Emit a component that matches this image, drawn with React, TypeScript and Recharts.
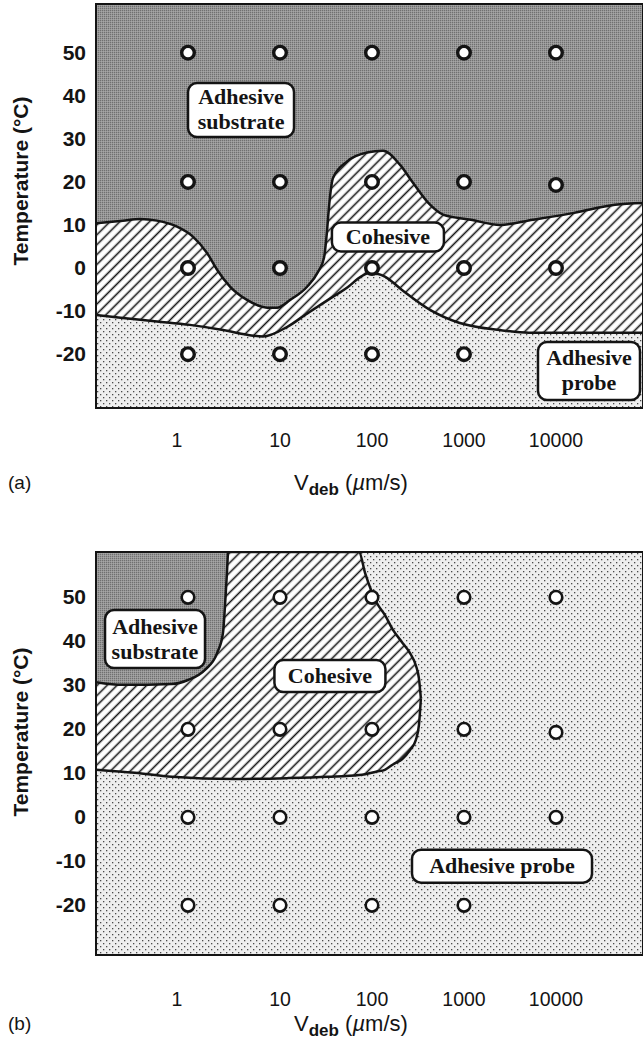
import React from 'react';
import {
  ComposedChart,
  Area,
  Scatter,
  XAxis,
  YAxis,
  ReferenceArea,
  ReferenceDot,
} from 'recharts';

// ---------------- data ----------------
const xTicks = [1, 10, 100, 1000, 10000];
const yTicks = [-20, -10, 0, 10, 20, 30, 40, 50];
const X_DOMAIN: [number, number] = [0.1, 88300];
const Y_DOMAIN_A: [number, number] = [-32.5, 61.3];
const Y_DOMAIN_B: [number, number] = [-31.3, 60.3];

// Panel (a): boundary between "Adhesive substrate" (above) and "Cohesive" (below)
const boundarySubstrateCohesiveA = [
  { v: 0.1, t: 10.4 }, { v: 0.196, t: 11.0 }, { v: 0.301, t: 11.4 }, { v: 0.46, t: 11.0 },
  { v: 0.76, t: 9.6 }, { v: 1.13, t: 7.3 }, { v: 1.61, t: 3.5 }, { v: 2.07, t: -0.4 },
  { v: 2.86, t: -4.3 }, { v: 4.38, t: -7.4 }, { v: 7.23, t: -9.2 }, { v: 9.27, t: -9.2 },
  { v: 12.9, t: -7.4 }, { v: 19.6, t: -4.4 }, { v: 25.9, t: -0.9 }, { v: 30.1, t: 2.4 },
  { v: 32.4, t: 8.4 }, { v: 34.1, t: 14.2 }, { v: 37.7, t: 20.9 }, { v: 53.5, t: 24.7 },
  { v: 88.3, t: 26.8 }, { v: 132, t: 27.2 }, { v: 201, t: 24.0 }, { v: 279, t: 19.8 },
  { v: 427, t: 14.7 }, { v: 592, t: 12.4 }, { v: 1190, t: 11.2 }, { v: 2460, t: 10.0 },
  { v: 5620, t: 11.2 }, { v: 15700, t: 12.8 }, { v: 43800, t: 14.7 }, { v: 88300, t: 15.1 },
];

// Panel (a): boundary between "Cohesive" (above) and "Adhesive probe" (below)
const boundaryCohesiveProbeA = [
  { v: 0.1, t: -10.9 }, { v: 0.196, t: -11.6 }, { v: 0.46, t: -12.4 }, { v: 1.05, t: -13.2 },
  { v: 2.4, t: -14.4 }, { v: 4.38, t: -15.5 }, { v: 6.53, t: -15.9 }, { v: 11.9, t: -13.7 },
  { v: 19.6, t: -10.6 }, { v: 33.3, t: -7.4 }, { v: 54.8, t: -4.4 }, { v: 75.9, t: -2.0 },
  { v: 95.1, t: -1.1 }, { v: 138, t: -2.0 }, { v: 212, t: -5.1 }, { v: 427, t: -9.7 },
  { v: 883, t: -12.7 }, { v: 2460, t: -14.4 }, { v: 5090, t: -15.0 }, { v: 15700, t: -15.0 },
  { v: 88300, t: -15.0 },
];

// Panel (b): lower edge of the "Adhesive substrate" corner
const boundarySubstrateB = [
  { v: 0.1, t: 30.7 }, { v: 0.196, t: 30.1 }, { v: 0.67, t: 30.3 }, { v: 1.0, t: 31.2 },
  { v: 1.53, t: 33.5 }, { v: 2.07, t: 37.3 }, { v: 2.4, t: 41.9 }, { v: 2.52, t: 47.8 },
  { v: 2.65, t: 55.5 }, { v: 2.72, t: 60.3 },
];

// Panel (b): "Cohesive" region as a [lower, upper] temperature band
const cohesiveBandB = [
  { v: 0.1, r: [10.8, 60.3] }, { v: 0.265, r: [10.1, 60.3] }, { v: 0.67, r: [9.2, 60.3] },
  { v: 3.16, r: [8.7, 60.3] }, { v: 11.9, r: [8.9, 60.3] }, { v: 33.3, r: [9.2, 60.3] },
  { v: 72.2, r: [9.6, 60.3] }, { v: 84.2, r: [9.8, 55.5] }, { v: 113, r: [10.4, 48.7] },
  { v: 138, r: [10.8, 46.0] }, { v: 169, r: [12.0, 42.6] }, { v: 212, r: [13.2, 39.8] },
  { v: 259, r: [15.3, 37.3] }, { v: 300, r: [17.6, 34.5] }, { v: 324, r: [21.0, 31.5] },
  { v: 340, r: [27.0, 27.0] },
];

// measurement points
const pointsA = [
  { v: 1, t: 50 }, { v: 10, t: 50 }, { v: 100, t: 50 }, { v: 1000, t: 50 }, { v: 10000, t: 50 },
  { v: 1, t: 20 }, { v: 10, t: 20 }, { v: 100, t: 20 }, { v: 1000, t: 20 }, { v: 10000, t: 19.3 },
  { v: 1, t: 0 }, { v: 10, t: 0 }, { v: 100, t: 0 }, { v: 1000, t: 0 }, { v: 10000, t: 0 },
  { v: 1, t: -20 }, { v: 10, t: -20 }, { v: 100, t: -20 }, { v: 1000, t: -20 },
];
const pointsB = [
  { v: 1, t: 50 }, { v: 10, t: 50 }, { v: 100, t: 50 }, { v: 1000, t: 50 }, { v: 10000, t: 50 },
  { v: 1, t: 20 }, { v: 10, t: 20 }, { v: 100, t: 20 }, { v: 1000, t: 20 }, { v: 10000, t: 19.3 },
  { v: 1, t: 0 }, { v: 10, t: 0 }, { v: 100, t: 0 }, { v: 1000, t: 0 }, { v: 10000, t: 0 },
  { v: 1, t: -20 }, { v: 10, t: -20 }, { v: 100, t: -20 }, { v: 1000, t: -20 },
];

// region labels (anchor in data coordinates)
const regionLabelsA = [
  { v: 3.77, t: 36.7, lines: ['Adhesive', 'substrate'] },
  { v: 149, t: 7.2, lines: ['Cohesive'] },
  { v: 22850, t: -23.9, lines: ['Adhesive', 'probe'] },
];
const regionLabelsB = [
  { v: 0.438, t: 40.5, lines: ['Adhesive', 'substrate'] },
  { v: 34.9, t: 32.1, lines: ['Cohesive'] },
  { v: 2590, t: -11.1, lines: ['Adhesive probe'] },
];

// ---------------- styles ----------------
const SANS = '"Liberation Sans", Arial, Helvetica, sans-serif';
const SERIF = '"Liberation Serif", "Times New Roman", serif';
const INK = '#141414';
const boxSizesA = [[106, 54], [112, 29], [102, 58]];
const boxSizesB = [[100, 58], [111, 32], [180, 33]];

function patternDefs(id: string) {
  return (
    <defs>
      <pattern id={`sub-${id}`} width={2} height={2} patternUnits="userSpaceOnUse">
        <rect width={2} height={2} fill="#969696" />
        <rect width={1} height={1} fill="#707070" />
        <rect x={1} y={1} width={1} height={1} fill="#a6a6a6" />
      </pattern>
      <pattern id={`dots-${id}`} width={6} height={6} patternUnits="userSpaceOnUse">
        <rect width={6} height={6} fill="#eeeeee" />
        <rect x={1} y={1} width={1.3} height={1.3} fill="#4a4a4a" />
        <rect x={4} y={4} width={1.3} height={1.3} fill="#4a4a4a" />
      </pattern>
      <pattern id={`hatch-${id}`} width={7} height={7} patternUnits="userSpaceOnUse" patternTransform="rotate(45)">
        <rect width={7} height={7} fill="#ffffff" />
        <line x1={3.5} y1={0} x2={3.5} y2={7} stroke={INK} strokeWidth={1.6} />
      </pattern>
    </defs>
  );
}

const YTick = (props: any) => {
  const { x, y, payload } = props;
  return (
    <text x={x - 10} y={y + 7} textAnchor="end" fontFamily={SANS} fontWeight="bold" fontSize={21} fill={INK}>
      {payload.value}
    </text>
  );
};

const makeXTick = (dy: number) => (props: any) => {
  const { x, y, payload } = props;
  const dx = payload.value === 1 ? -11 : 0;
  return (
    <text x={x + dx} y={y + dy} textAnchor="middle" fontFamily={SANS} fontSize={19.5} fill={INK}>
      {payload.value}
    </text>
  );
};

const xTitle = (panel: string, baseline: number) => () => (
  <g>
    <text x={8} y={baseline - 1} fontFamily={SANS} fontSize={19} fill={INK}>
      {panel}
    </text>
    <text x={294} y={baseline} fontFamily={SANS} fontSize={22} fill={INK}>
      V
      <tspan dy={5} fontSize={17} fontWeight="bold">deb</tspan>
      <tspan dy={-5}> (</tspan>
      <tspan fontStyle="italic">µ</tspan>
      <tspan>m/s)</tspan>
    </text>
  </g>
);

const yTitle = (cy: number) => () => (
  <text
    x={28}
    y={cy}
    transform={`rotate(-90, 28, ${cy})`}
    textAnchor="middle"
    fontFamily={SANS}
    fontWeight="bold"
    fontSize={21}
    fill={INK}
  >
    Temperature (°C)
  </text>
);

const circleShape = (sw: number) => (p: any) => (
  <circle cx={p.cx} cy={p.cy} r={6.3} fill="#ffffff" stroke={INK} strokeWidth={sw} />
);

const labelBox = (lines: string[], w: number, h: number) => (p: any) => {
  const { cx, cy } = p;
  const lh = 25;
  const first = cy + 7 - ((lines.length - 1) * lh) / 2;
  return (
    <g>
      <rect x={cx - w / 2} y={cy - h / 2} width={w} height={h} rx={9} ry={9} fill="#ffffff" stroke={INK} strokeWidth={2.5} />
      <text textAnchor="middle" fontFamily={SERIF} fontWeight="bold" fontSize={22} fill={INK}>
        {lines.map((s, i) => (
          <tspan key={i} x={cx} y={first + i * lh}>
            {s}
          </tspan>
        ))}
      </text>
    </g>
  );
};

function PanelA() {
  return (
    <ComposedChart width={643} height={500} margin={{ top: 4, right: 0, bottom: 0, left: 0 }}>
      {patternDefs('a')}
      <XAxis
        dataKey="v"
        type="number"
        scale="log"
        domain={X_DOMAIN}
        ticks={xTicks}
        interval={0}
        allowDataOverflow
        axisLine={false}
        tickLine={false}
        tickSize={0}
        tickMargin={0}
        height={92}
        tick={makeXTick(39)}
        label={xTitle('(a)', 490)}
      />
      <YAxis
        type="number"
        domain={Y_DOMAIN_A}
        ticks={yTicks}
        interval={0}
        allowDataOverflow
        axisLine={false}
        tickLine={false}
        tickSize={0}
        tickMargin={0}
        width={96}
        tick={YTick}
        label={yTitle(181)}
      />
      <ReferenceArea
        x1={X_DOMAIN[0]} x2={X_DOMAIN[1]} y1={Y_DOMAIN_A[0]} y2={Y_DOMAIN_A[1]}
        fill="url(#sub-a)" fillOpacity={1} stroke="none" ifOverflow="visible" zIndex={10}
      />
      <Area
        data={boundarySubstrateCohesiveA}
        dataKey="t"
        type="monotone"
        baseValue="dataMin"
        fill="url(#hatch-a)"
        fillOpacity={1}
        stroke={INK}
        strokeWidth={2.5}
        dot={false}
        activeDot={false}
        isAnimationActive={false}
        zIndex={20}
      />
      <Area
        data={boundaryCohesiveProbeA}
        dataKey="t"
        type="monotone"
        baseValue="dataMin"
        fill="url(#dots-a)"
        fillOpacity={1}
        stroke={INK}
        strokeWidth={2.5}
        dot={false}
        activeDot={false}
        isAnimationActive={false}
        zIndex={30}
      />
      <ReferenceArea
        x1={X_DOMAIN[0]} x2={X_DOMAIN[1]} y1={Y_DOMAIN_A[0]} y2={Y_DOMAIN_A[1]}
        fill="none" stroke={INK} strokeWidth={2} ifOverflow="visible" zIndex={40}
      />
      <Scatter data={pointsA} dataKey="t" shape={circleShape(3.4)} isAnimationActive={false} zIndex={50} />
      {regionLabelsA.map((l, i) => (
        <ReferenceDot
          key={i}
          x={l.v}
          y={l.t}
          ifOverflow="visible"
          shape={labelBox(l.lines, boxSizesA[i][0], boxSizesA[i][1])}
          zIndex={60}
        />
      ))}
    </ComposedChart>
  );
}

function PanelB() {
  return (
    <ComposedChart width={643} height={509} margin={{ top: 12, right: 0, bottom: 0, left: 0 }}>
      {patternDefs('b')}
      <XAxis
        dataKey="v"
        type="number"
        scale="log"
        domain={X_DOMAIN}
        ticks={xTicks}
        interval={0}
        allowDataOverflow
        axisLine={false}
        tickLine={false}
        tickSize={0}
        tickMargin={0}
        height={94}
        tick={makeXTick(51)}
        label={xTitle('(b)', 491)}
      />
      <YAxis
        type="number"
        domain={Y_DOMAIN_B}
        ticks={yTicks}
        interval={0}
        allowDataOverflow
        axisLine={false}
        tickLine={false}
        tickSize={0}
        tickMargin={0}
        width={96}
        tick={YTick}
        label={yTitle(192)}
      />
      <ReferenceArea
        x1={X_DOMAIN[0]} x2={X_DOMAIN[1]} y1={Y_DOMAIN_B[0]} y2={Y_DOMAIN_B[1]}
        fill="url(#dots-b)" fillOpacity={1} stroke="none" ifOverflow="visible" zIndex={10}
      />
      <Area
        data={cohesiveBandB}
        dataKey="r"
        type="monotone"
        fill="url(#hatch-b)"
        fillOpacity={1}
        stroke={INK}
        strokeWidth={2.5}
        dot={false}
        activeDot={false}
        isAnimationActive={false}
        zIndex={20}
      />
      <Area
        data={boundarySubstrateB}
        dataKey="t"
        type="monotone"
        baseValue="dataMax"
        fill="url(#sub-b)"
        fillOpacity={1}
        stroke={INK}
        strokeWidth={2.5}
        dot={false}
        activeDot={false}
        isAnimationActive={false}
        zIndex={30}
      />
      <ReferenceArea
        x1={X_DOMAIN[0]} x2={X_DOMAIN[1]} y1={Y_DOMAIN_B[0]} y2={Y_DOMAIN_B[1]}
        fill="none" stroke={INK} strokeWidth={2} ifOverflow="visible" zIndex={40}
      />
      <Scatter data={pointsB} dataKey="t" shape={circleShape(2.6)} isAnimationActive={false} zIndex={50} />
      {regionLabelsB.map((l, i) => (
        <ReferenceDot
          key={i}
          x={l.v}
          y={l.t}
          ifOverflow="visible"
          shape={labelBox(l.lines, boxSizesB[i][0], boxSizesB[i][1])}
          zIndex={60}
        />
      ))}
    </ComposedChart>
  );
}

export default function App() {
  return (
    <div
      style={{
        position: 'absolute',
        left: 0,
        top: 0,
        width: 643,
        height: 1049,
        background: '#ffffff',
        overflow: 'hidden',
      }}
    >
      <div style={{ position: 'absolute', left: 0, top: 0 }}>
        <PanelA />
      </div>
      <div style={{ position: 'absolute', left: 0, top: 540 }}>
        <PanelB />
      </div>
    </div>
  );
}
